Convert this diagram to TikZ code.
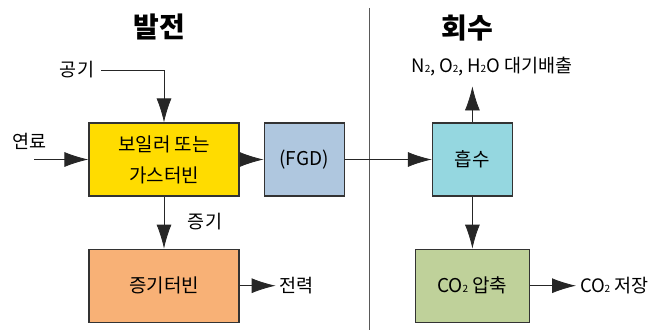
\documentclass[tikz,border=0pt]{standalone}
\usepackage{fontspec}
\setmainfont{Noto Sans CJK KR}
\usetikzlibrary{positioning, arrows.meta}
\definecolor{boilcol}{HTML}{FFDC00}
\definecolor{fgdcol}{HTML}{AFC7DF}
\definecolor{turbcol}{HTML}{F8B176}
\definecolor{abscol}{HTML}{95D7E0}
\definecolor{compcol}{HTML}{BFD19A}
\def\flow{\draw[-{Latex[length=24pt, width=15pt]}, line width=0.8pt, black!85]}
\newcommand{\lowtwo}{\kern-0.5pt{\fontsize{10}{10}\selectfont 2}}

\begin{document}
\begin{tikzpicture}[x=1pt, y=1pt,
            box/.style={draw=black!80, line width=1.2pt, minimum width=150pt, minimum height=73pt, align=center, font=\fontsize{19}{31}\selectfont},
            lbl/.style={font=\fontsize{18.5}{20}\selectfont, inner sep=4pt},
            title/.style={font=\fontsize{28}{30}\selectfont\bfseries}]
            \useasboundingbox (0,0) rectangle (669,330);
            \node [box, fill=boilcol] (boil) at (164,170.5) {보일러 또는\\가스터빈};
            \node [box, fill=fgdcol, minimum width=80pt, right=24pt of boil] (fgd) {(FGD)};
            \node [box, fill=turbcol, below=52pt of boil] (turb) {증기터빈};
            \node [box, fill=abscol, minimum width=80pt, right=87pt of fgd] (absb) {흡수};
            \node [box, fill=compcol, minimum width=114pt, below=52pt of absb] (comp) {CO\lowtwo{} 압축};
            \node [title] (gen) at (159,303) {발전};
            \node [title] (rec) at (467,302) {회수};
            \node [lbl] (air) at (77,260) {공기};
            \node [lbl] (fuel) at (29.5,189) {연료};
            \node [lbl] (steam) at (205,108) {증기};
            \node [lbl, right=36pt of turb] (power) {전력};
            \node [lbl] (emis) at (492,263) {N\lowtwo, O\lowtwo, H\lowtwo O 대기배출};
            \node [lbl, right=46pt of comp] (store) {CO\lowtwo{} 저장};
            \coordinate [left=54pt of boil.west] (fuelin);
            \coordinate [above=36pt of absb.north] (up);
            \coordinate (divtop) at (369,322);
            \coordinate (divbot) at (369,0);

            \draw[black!65, line width=0.9pt] (divtop) -- (divbot);
            \flow ([xshift=3pt]air.east) -| (boil.north);
            \flow (fuelin) -- (boil.west);
            \flow (boil) -- (fgd);
            \flow (fgd) -- (absb);
            \flow (boil) -- (turb);
            \flow (turb) -- (power);
            \flow (absb) -- (up);
            \flow (absb) -- (comp);
            \flow (comp) -- (store);
        \end{tikzpicture}
\end{document}
